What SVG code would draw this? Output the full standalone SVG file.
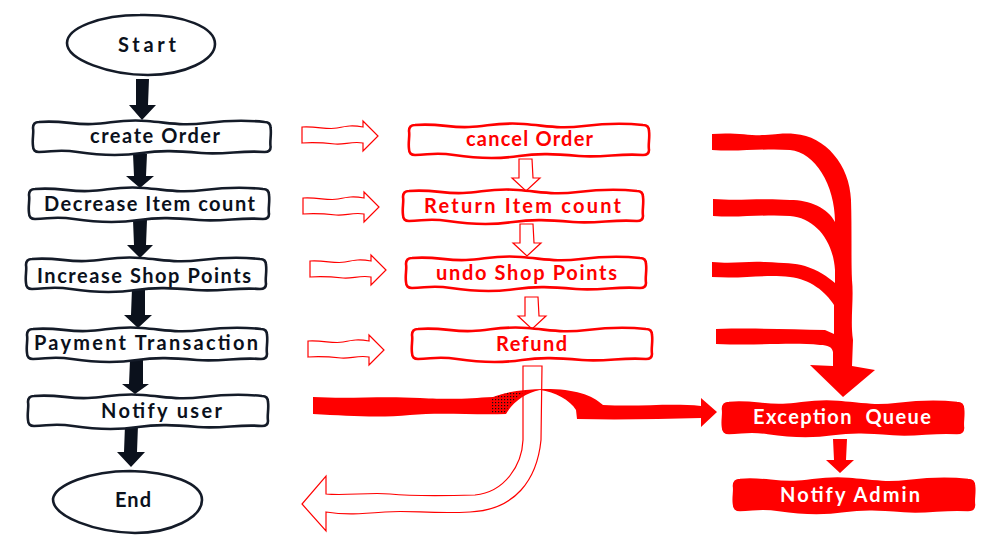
<svg xmlns="http://www.w3.org/2000/svg" width="1000" height="554" viewBox="0 0 1000 554">
<style>
text{font-family:"Lato","Noto Sans","Liberation Sans",sans-serif;font-weight:700;font-size:20px;white-space:pre}
.k{fill:#fff;stroke:#141b28;stroke-width:2.6;stroke-linejoin:round}
.kt{fill:#0b111c}
.r{fill:#fff;stroke:#f00;stroke-width:2.6;stroke-linejoin:round}
.rt{fill:#f00}
.s{fill:#f00;stroke:#f00;stroke-width:2.6;stroke-linejoin:round}
.st{fill:#fff}
.ka{fill:#0b111c}
.h{fill:none;stroke:#f00;stroke-width:1.2;stroke-linejoin:miter}
.t{fill:#f00}
</style>
<defs>
<path id="box" d="M6 1C30-1 40 4 60 3S90-2 115 0S150 5 175 2S215-1 234 1Q240 1 240 7C241 14 239 20 240 26Q240 31 234 31C210 29 195 34 170 32S130 29 110 32S65 34 45 31S20 31 6 31Q0 31 0 25C-1 18 1 12 0 7Q0 1 6 1Z"/>
<path id="hr" d="M0 0C15-1 25 3 35 1S50-2 61 0V-6L76 9L61 24V16C50 14 42 18 33 17S12 15 0 16Z"/>
<path id="hd" d="M0 0H13L14 19H21L7 32L-7 19H0Z"/>
<pattern id="dots" width="3" height="3" patternUnits="userSpaceOnUse"><rect width="1.2" height="1.2" fill="#111"/></pattern>
</defs>

<g id="connectors">
<path class="ka" d="M136 79H149L148 105H156L142 120L129 105H136Z"/>
<path class="ka" d="M133 154H147L146 176H154L140 188L126 176H134Z"/>
<path class="ka" d="M133 220H147L146 245H153L140 258L127 245H134Z"/>
<path class="ka" d="M132 288H145L145 315H152L138 328L124 315H131Z"/>
<path class="ka" d="M130 360H143L143 384H149L135 394L122 384H129Z"/>
<path class="ka" d="M125 425H138L137 452H145L131 467L117 452H124Z"/>

<use href="#hr" class="h" x="302" y="127"/>
<use href="#hr" class="h" x="303" y="198"/>
<use href="#hr" class="h" x="310" y="261"/>
<use href="#hr" class="h" x="308" y="341"/>

<use href="#hd" class="h" x="519" y="159"/>
<use href="#hd" class="h" x="520" y="224"/>
<use href="#hd" class="h" x="525" y="297"/>

<path class="t" d="M313 397C350 399 380 396 420 398S470 398 493 397C505 392 525 389 545 389C575 389 592 395 603 405C640 407 670 403 701 406V398L717 412L701 427V418C660 419 620 420 577 419L576 410C570 400 555 392 540 390C525 393 513 402 506 414C470 415 440 412 410 415S350 416 313 414Z"/>
<path fill="url(#dots)" d="M492 398C505 393 515 391 527 391C517 396 510 403 505 413L492 413Z"/>
<path class="h" d="M523 366H542L541 440C537 480 515 510 470 512C430 514 410 510 385 512S345 515 326 512V531L302 504L326 476V494C345 496 370 492 390 494S440 496 475 495C505 492 522 465 523 440C523 415 523 390 523 366Z"/>

<path class="t" d="M712 134C735 132 750 136 765 135S785 133 795 134C825 136 850 165 851 200C852 230 851 260 852 280C854 300 850 320 853 340L852 366L875 370L843 397L810 365L833 366L833 352C832 347 828 345 820 345C790 342 760 346 716 344V329C750 328 790 329 825 330L834 334V305C826 292 810 279 790 277C765 274 745 279 712 277V262C735 264 745 261 765 262S795 263 805 266C818 270 828 277 835 283V270C833 240 815 218 790 216C765 214 740 218 713 216V199C740 201 760 198 790 200C810 200 828 208 835 222C835 185 815 152 790 150C765 148 740 152 712 150Z"/>

<path class="t" d="M833 439H847L846 460H854L840 473L826 460H834Z"/>
</g>

<g id="start"><path class="k" d="M67 43C67 28 100 15 140 15C185 14 215 28 215 44C215 60 185 75 148 75C110 75 67 60 67 43Z"/><text class="kt" x="118" y="52" textLength="58">Start</text></g>
<g id="create-order"><use href="#box" class="k" transform="translate(33 121) scale(.99 1)"/><text class="kt" x="90" y="143" textLength="130">create Order</text></g>
<g id="decrease-item-count"><use href="#box" class="k" x="29" y="188"/><text class="kt" x="44" y="211" textLength="211">Decrease Item count</text></g>
<g id="increase-shop-points"><use href="#box" class="k" x="26" y="258"/><text class="kt" x="37" y="283" textLength="214">Increase Shop Points</text></g>
<g id="payment-transaction"><use href="#box" class="k" x="27" y="328"/><text class="kt" x="34" y="350" textLength="224">Payment Transaction</text></g>
<g id="notify-user"><use href="#box" class="k" x="28" y="395"/><text class="kt" x="101" y="418" textLength="121">Notify user</text></g>
<g id="end"><path class="k" d="M53 499C55 485 90 471 130 471C170 472 202 483 202 500C202 518 170 533 135 533C95 532 53 517 53 499Z"/><text class="kt" x="115" y="507" textLength="36">End</text></g>

<g id="cancel-order"><use href="#box" class="r" x="409" y="124"/><text class="rt" x="466" y="146" textLength="127">cancel Order</text></g>
<g id="return-item-count"><use href="#box" class="r" x="403" y="190"/><text class="rt" x="424" y="213" textLength="197">Return Item count</text></g>
<g id="undo-shop-points"><use href="#box" class="r" x="406" y="257"/><text class="rt" x="436" y="280" textLength="181">undo Shop Points</text></g>
<g id="refund"><use href="#box" class="r" x="412" y="328"/><text class="rt" x="496" y="351" textLength="71">Refund</text></g>

<g id="exception-queue"><use href="#box" class="s" x="723" y="402"/><text class="st" x="753" y="424" textLength="178">Exception  Queue</text></g>
<g id="notify-admin"><use href="#box" class="s" x="734" y="479"/><text class="st" x="780" y="502" textLength="140">Notify Admin</text></g>
</svg>
